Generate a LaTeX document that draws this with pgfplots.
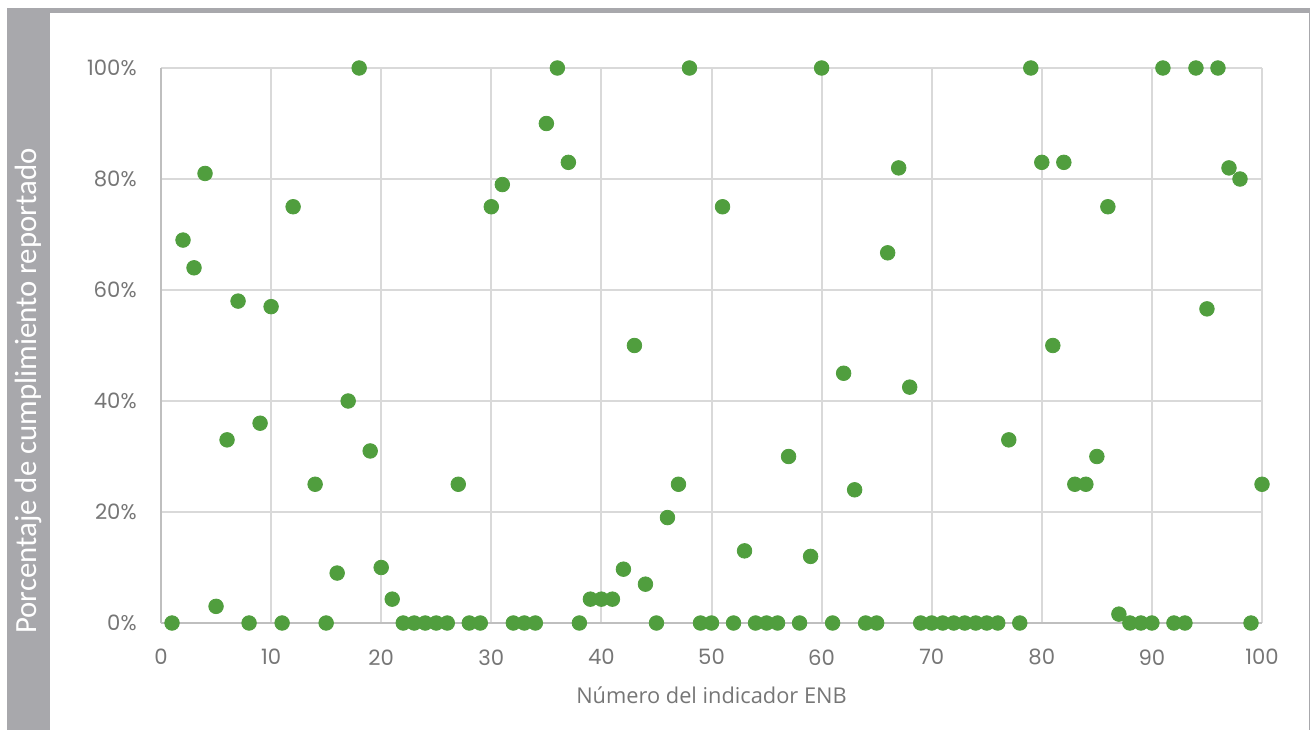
\documentclass[border=0pt]{standalone}
\usepackage{fontspec}
\setmainfont{Carlito}
\newfontfamily\tickfont{Poppins}
\newfontfamily\labfont{Open Sans}
\usepackage{pgfplots}
\pgfplotsset{compat=1.18}
\definecolor{dotgreen}{RGB}{80,158,62}
\definecolor{bandgray}{RGB}{168,168,172}
\definecolor{gridgray}{RGB}{217,217,217}
\definecolor{axgray}{RGB}{191,191,191}
\definecolor{txtgray}{RGB}{118,118,118}
\begin{document}
\begin{tikzpicture}
\path[use as bounding box] (-80.5pt,-53.5pt) rectangle (574.5pt,311.5pt);
\fill[bandgray] (-77pt,-53.5pt) rectangle (-55.5pt,305.5pt);
\fill[bandgray] (-77pt,305pt) rectangle (574.5pt,307.5pt);
\draw[bandgray,line width=0.6pt] (574.2pt,307pt) -- (574.2pt,-53.5pt);
\node[rotate=90,text=white,font=\fontsize{15.4pt}{18pt}\selectfont,inner sep=0pt] at (-66.5pt,116pt) {Porcentaje de cumplimiento reportado};
\begin{axis}[
  scale only axis,
  width=550.5pt, height=277.5pt,
  xmin=0, xmax=100, ymin=0, ymax=100,
  clip=false,
  axis x line*=bottom, axis y line*=left,
  axis line style={draw=axgray, line width=1pt, -},
  xtick={0,10,...,100}, ytick={0,20,...,100},
  major tick length=0pt,
  grid=major,
  x grid style={draw=gridgray, line width=1pt},
  y grid style={draw=gridgray, line width=0.6pt},
  /pgf/number format/assume math mode=true,
  yticklabel={\pgfmathprintnumber{\tick}\%},
  ticklabel style={font=\tickfont\fontsize{10.6pt}{12pt}\selectfont, text=txtgray, inner sep=0pt},
  yticklabel style={anchor=east, xshift=-12pt},
  xticklabel style={anchor=north, yshift=-13pt},
  xlabel={Número del indicador ENB},
  xlabel style={font=\labfont\fontsize{10.9pt}{13pt}\selectfont, text=txtgray, at={(axis description cs:0.5,0)}, anchor=center, yshift=-36pt},
]
\addplot[only marks, mark=*, mark size=3.65pt, mark options={fill=dotgreen, draw=dotgreen}] coordinates {
(1,0) (2,69) (3,64) (4,81) (5,3) (6,33) (7,58) (8,0) (9,36) (10,57)
(11,0) (12,75) (14,25) (15,0) (16,9) (17,40) (18,100) (19,31) (20,10)
(21,4.3) (22,0) (23,0) (24,0) (25,0) (26,0) (27,25) (28,0) (29,0) (30,75)
(31,79) (32,0) (33,0) (34,0) (35,90) (36,100) (37,83) (38,0) (39,4.3) (40,4.3)
(41,4.3) (42,9.7) (43,50) (44,7) (45,0) (46,19) (47,25) (48,100) (49,0) (50,0)
(51,75) (52,0) (53,13) (54,0) (55,0) (56,0) (57,30) (58,0) (59,12) (60,100)
(61,0) (62,45) (63,24) (64,0) (65,0) (66,66.7) (67,82) (68,42.5) (69,0) (70,0)
(71,0) (72,0) (73,0) (74,0) (75,0) (76,0) (77,33) (78,0) (79,100) (80,83)
(81,50) (82,83) (83,25) (84,25) (85,30) (86,75) (87,1.6) (88,0) (89,0) (90,0)
(91,100) (92,0) (93,0) (94,100) (95,56.6) (96,100) (97,82) (98,80) (99,0) (100,25)
};
\end{axis}
\end{tikzpicture}
\end{document}
